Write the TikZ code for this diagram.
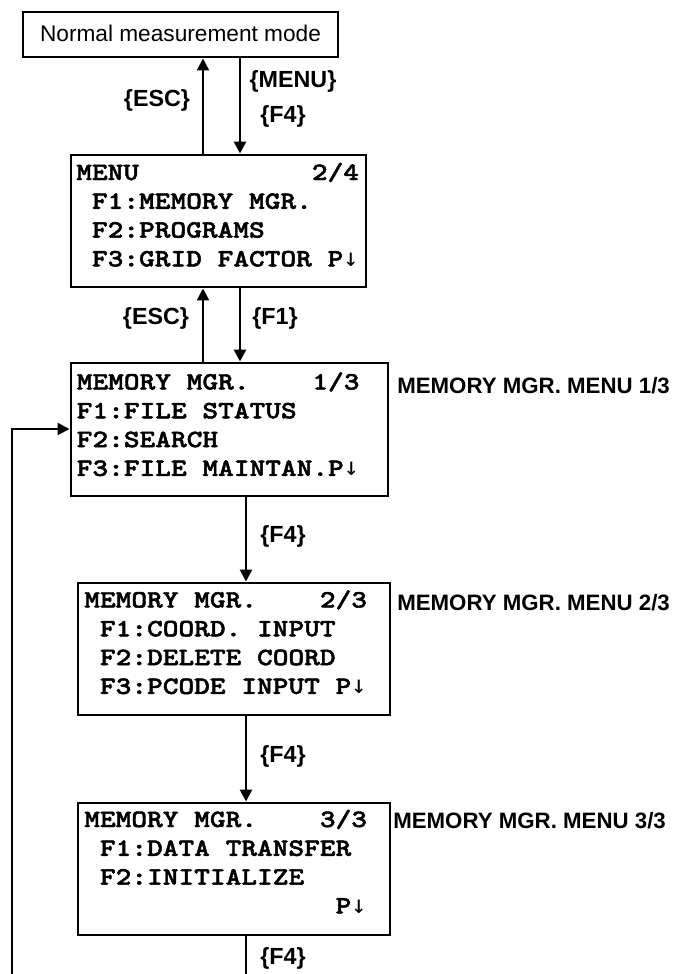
\documentclass[tikz,border=0pt]{standalone}
\usepackage{fontspec}
\setmainfont{Liberation Sans}
\newfontfamily\lcdfont{lmmonolt10-bold}[Extension=.otf,FakeStretch=1.2,FakeBold=1.8]
\newfontfamily\lcdarrowfont{DejaVu Sans Mono}
\newcommand\lcddown{{\lcdarrowfont ↓}}
\usetikzlibrary{arrows.meta,fit}
\begin{document}
\begin{tikzpicture}[x=0.75pt,y=-0.75pt,
  boxline/.style={draw=black,line width=2.2pt,inner sep=0pt,rectangle},
  conn/.style={line width=1.9pt,-{Triangle[width=9pt,length=9pt]}},
  plainline/.style={line width=1.9pt},
  keylabel/.style={font=\fontsize{17.5}{20}\selectfont\bfseries,inner sep=0pt},
  sidelabel/.style={font=\fontsize{16.7}{19}\selectfont\bfseries,inner sep=0pt,anchor=west},
  lcdtext/.style={font=\fontsize{18.7}{21.6}\selectfont\lcdfont,inner sep=0pt,anchor=base west},
  toptext/.style={font=\fontsize{17}{20}\selectfont,inner sep=0pt}]
\fill[white] (0,0) rectangle (675,974);
\useasboundingbox (0,0) rectangle (675,974);
% boxes
\node[boxline,fit={(23,12) (338,57)}] (top) {};
\node[toptext] (toptxt) at (180.5,33) {Normal measurement mode};
\node[boxline,fit={(71,155) (366,287)}] (menu) {};
\node[boxline,fit={(71,363) (388,496)}] (mm1) {};
\node[boxline,fit={(78,583) (390,715)}] (mm2) {};
\node[boxline,fit={(78,803) (390,935)}] (mm3) {};
% screen texts
\node[lcdtext] (menutxt) at (76,180) {\begin{tabular}[t]{@{}l@{}}
MENU\hphantom{XXXXXXXXXXX}2/4\\
\ F1:MEMORY\ MGR.\\
\ F2:PROGRAMS\\
\ F3:GRID\ FACTOR\ P\lcddown
\end{tabular}};
\node[lcdtext] (mm1txt) at (76.5,389.5) {\begin{tabular}[t]{@{}l@{}}
MEMORY\ MGR.\hphantom{XXXX}1/3\\
F1:FILE\ STATUS\\
F2:SEARCH\\
F3:FILE\ MAINTAN.P\lcddown
\end{tabular}};
\node[lcdtext] (mm2txt) at (84,607.5) {\begin{tabular}[t]{@{}l@{}}
MEMORY\ MGR.\hphantom{XXXX}2/3\\
\ F1:COORD.\ INPUT\\
\ F2:DELETE\ COORD\\
\ F3:PCODE\ INPUT\ P\lcddown
\end{tabular}};
\node[lcdtext] (mm3txt) at (84,827) {\begin{tabular}[t]{@{}l@{}}
MEMORY\ MGR.\hphantom{XXXX}3/3\\
\ F1:DATA\ TRANSFER\\
\ F2:INITIALIZE\\
\hphantom{XXXXXXXXXXXXXXXX}P\lcddown
\end{tabular}};
% side labels
\node[sidelabel] (lab1) at (397,386) {MEMORY MGR. MENU 1/3};
\node[sidelabel] (lab2) at (397,603) {MEMORY MGR. MENU 2/3};
\node[sidelabel] (lab3) at (393,821) {MEMORY MGR. MENU 3/3};
% connectors
\coordinate (xu) at (203,0);
\coordinate (xd) at (240,0);
\coordinate (xm) at (246,0);
\coordinate (yl) at (0,429);
\coordinate (outend) at (246,974);
\coordinate (loopstart) at (12,974);
\draw[conn] (menu.north -| xu) -- (top.south -| xu);
\draw[conn] (top.south -| xd) -- (menu.north -| xd);
\draw[conn] (mm1.north -| xu) -- (menu.south -| xu);
\draw[conn] (menu.south -| xd) -- (mm1.north -| xd);
\draw[conn] (mm1.south -| xm) -- (mm2.north -| xm);
\draw[conn] (mm2.south -| xm) -- (mm3.north -| xm);
\draw[plainline] (mm3.south -| xm) -- (outend);
\draw[conn] (loopstart) |- (yl -| mm1.west);
% key labels
\node[keylabel] (kesc1) at (157,100) {\{ESC\}};
\node[keylabel] (kmenu) at (293,81) {\{MENU\}};
\node[keylabel] (kf4a) at (283,116) {\{F4\}};
\node[keylabel] (kesc2) at (156,318) {\{ESC\}};
\node[keylabel] (kf1) at (275,318) {\{F1\}};
\node[keylabel] (kf4b) at (283,536) {\{F4\}};
\node[keylabel] (kf4c) at (283,756) {\{F4\}};
\node[keylabel] (kf4d) at (283,958) {\{F4\}};
\end{tikzpicture}
\end{document}
